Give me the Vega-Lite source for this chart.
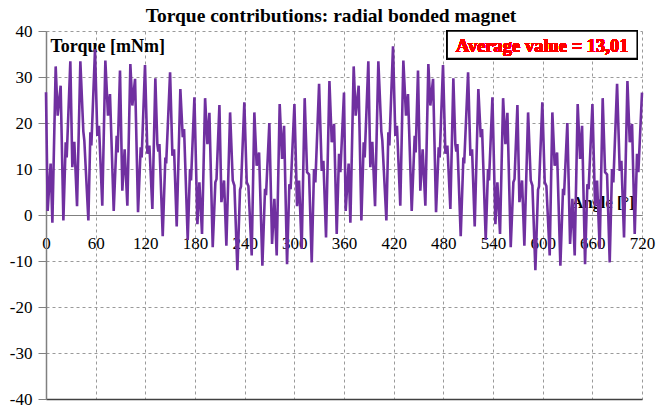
{
  "$schema": "https://vega.github.io/schema/vega-lite/v6.json",
  "width": 596,
  "height": 368,
  "autosize": {"type": "none"},
  "padding": {"left": 46, "top": 31, "right": 14, "bottom": 8},
  "background": "white",
  "config": {"view": {"stroke": null}, "font": "Liberation Serif"},
  "title": {"text": "Torque contributions: radial bonded magnet", "font": "Liberation Serif", "fontSize": 19.5, "fontWeight": "bold", "color": "black", "anchor": "middle", "dx": -13, "dy": 12, "offset": 8},
  "data": {"values": [
    {"a":0,"t":26.7},{"a":2,"t":0.9},{"a":5.6,"t":11.2},{"a":7.7,"t":-1.7},{"a":11.7,"t":32.3},{"a":14.1,"t":21.6},{"a":17.7,"t":28.1},{"a":21,"t":-1.2},{"a":23.8,"t":15.8},{"a":25,"t":12.5},{"a":29.4,"t":33.4},{"a":31.8,"t":10.4},{"a":34.2,"t":15.9},{"a":37.5,"t":1.9},{"a":41.5,"t":33.4},{"a":45.1,"t":18.2},{"a":46.3,"t":16.2},{"a":51.2,"t":-1.2},{"a":53.6,"t":18},{"a":54.8,"t":15.1},{"a":59.2,"t":36},{"a":62,"t":17.2},{"a":64,"t":19.4},{"a":68,"t":2},{"a":71.7,"t":33.6},{"a":74.9,"t":21.6},{"a":77.3,"t":26.3},{"a":81.8,"t":0.9},{"a":85.4,"t":17.2},{"a":86.6,"t":13.6},{"a":89.4,"t":31.4},{"a":92.2,"t":5.3},{"a":95,"t":14.3},{"a":98.3,"t":2},{"a":101.9,"t":32.8},{"a":104.3,"t":23.8},{"a":107.6,"t":29.6},{"a":111.2,"t":0.6},{"a":114.4,"t":14.7},{"a":115.6,"t":12.5},{"a":119.6,"t":32.6},{"a":122.5,"t":13.3},{"a":124.9,"t":15.1},{"a":128.5,"t":1.3},{"a":132.1,"t":29.7},{"a":134.5,"t":15.4},{"a":135.7,"t":13.8},{"a":137,"t":15.4},{"a":141,"t":-4.6},{"a":144.2,"t":12.5},{"a":145.2,"t":11.2},{"a":149.9,"t":31},{"a":152.7,"t":12.9},{"a":154.7,"t":14.3},{"a":157.9,"t":-2.5},{"a":162.3,"t":27.4},{"a":165.2,"t":16.9},{"a":166.8,"t":18.7},{"a":171.2,"t":-5.4},{"a":174,"t":10},{"a":175.2,"t":7.5},{"a":179.3,"t":25.6},{"a":182.9,"t":-2},{"a":185.3,"t":7.1},{"a":188.5,"t":-4.1},{"a":192.2,"t":25.4},{"a":195,"t":15.4},{"a":197.4,"t":22.2},{"a":201.4,"t":-7},{"a":204.6,"t":7.1},{"a":206,"t":7.8},{"a":209.5,"t":23.9},{"a":211.9,"t":2.8},{"a":215.1,"t":7.5},{"a":217.9,"t":-6.7},{"a":222.4,"t":22.3},{"a":225.6,"t":7.5},{"a":227.6,"t":6.4},{"a":231.2,"t":-12},{"a":234.4,"t":5.5},{"a":235.6,"t":6.2},{"a":239.6,"t":24.5},{"a":242.5,"t":7.1},{"a":244.5,"t":6.3},{"a":248.5,"t":-8.8},{"a":251.7,"t":22.3},{"a":254.5,"t":10.7},{"a":257.4,"t":13.6},{"a":261.4,"t":-11},{"a":264.6,"t":5.7},{"a":265.8,"t":4.3},{"a":269.8,"t":20},{"a":273.1,"t":-6.3},{"a":275.9,"t":3.5},{"a":278.7,"t":-8.8},{"a":282.3,"t":24.1},{"a":285.2,"t":12.2},{"a":287.6,"t":19.4},{"a":291.2,"t":-10.7},{"a":294,"t":6.7},{"a":295.5,"t":5.6},{"a":300.1,"t":24.1},{"a":303.3,"t":1.9},{"a":305.7,"t":7.5},{"a":308.9,"t":-7.4},{"a":312.5,"t":25.4},{"a":315.4,"t":9.3},{"a":317.8,"t":8.8},{"a":321,"t":-10.3},{"a":323.8,"t":10},{"a":325.4,"t":7.1},{"a":329.9,"t":28.5},{"a":333.1,"t":9.6},{"a":335.1,"t":11.8},{"a":338.3,"t":-4.9},{"a":342.4,"t":29.1},{"a":345.2,"t":15.8},{"a":348,"t":19.8},{"a":351.2,"t":-4.1},{"a":354,"t":13.3},{"a":355.6,"t":9.3},{"a":360,"t":26.6},
    {"a":362,"t":0.9},{"a":365.6,"t":11.2},{"a":367.7,"t":-1.7},{"a":371.7,"t":32.3},{"a":374.1,"t":21.6},{"a":377.7,"t":28.1},{"a":381,"t":-1.2},{"a":383.8,"t":15.8},{"a":385,"t":12.5},{"a":389.4,"t":33.4},{"a":391.8,"t":10.4},{"a":394.2,"t":15.9},{"a":397.5,"t":1.9},{"a":401.5,"t":33.4},{"a":405.1,"t":18.2},{"a":406.3,"t":16.2},{"a":411.2,"t":-1.2},{"a":413.6,"t":18},{"a":414.8,"t":15.1},{"a":419.2,"t":36.7},{"a":422,"t":17.2},{"a":424,"t":19.4},{"a":428,"t":2},{"a":431.7,"t":33.6},{"a":434.9,"t":21.6},{"a":437.3,"t":26.3},{"a":441.8,"t":0.9},{"a":445.4,"t":17.2},{"a":446.6,"t":13.6},{"a":449.4,"t":31.4},{"a":452.2,"t":5.3},{"a":455,"t":14.3},{"a":458.3,"t":2},{"a":461.9,"t":32.8},{"a":464.3,"t":23.8},{"a":467.6,"t":29.6},{"a":471.2,"t":0.6},{"a":474.4,"t":14.7},{"a":475.6,"t":12.5},{"a":479.6,"t":32.6},{"a":482.5,"t":13.3},{"a":484.9,"t":15.1},{"a":488.5,"t":1.3},{"a":492.1,"t":29.7},{"a":494.5,"t":15.4},{"a":495.7,"t":13.8},{"a":497,"t":15.4},{"a":501,"t":-4.6},{"a":504.2,"t":12.5},{"a":505.2,"t":11.2},{"a":509.9,"t":31},{"a":512.7,"t":12.9},{"a":514.7,"t":14.3},{"a":517.9,"t":-2.5},{"a":522.3,"t":27.4},{"a":525.2,"t":16.9},{"a":526.8,"t":18.7},{"a":531.2,"t":-5.4},{"a":534,"t":10},{"a":535.2,"t":7.5},{"a":539.3,"t":25.6},{"a":542.9,"t":-2},{"a":545.3,"t":7.1},{"a":548.5,"t":-4.1},{"a":552.2,"t":25.4},{"a":555,"t":15.4},{"a":557.4,"t":22.2},{"a":561.4,"t":-7},{"a":564.6,"t":7.1},{"a":566,"t":7.8},{"a":569.5,"t":23.9},{"a":571.9,"t":2.8},{"a":575.1,"t":7.5},{"a":577.9,"t":-6.7},{"a":582.4,"t":22.3},{"a":585.6,"t":7.5},{"a":587.6,"t":6.4},{"a":591.2,"t":-12},{"a":594.4,"t":5.5},{"a":595.6,"t":6.2},{"a":599.6,"t":24.5},{"a":602.5,"t":7.1},{"a":604.5,"t":6.3},{"a":608.5,"t":-8.8},{"a":611.7,"t":22.3},{"a":614.5,"t":10.7},{"a":617.4,"t":13.6},{"a":621.4,"t":-11},{"a":624.6,"t":5.7},{"a":625.8,"t":4.3},{"a":629.8,"t":20},{"a":633.1,"t":-6.3},{"a":635.9,"t":3.5},{"a":638.7,"t":-8.8},{"a":642.3,"t":24.1},{"a":645.2,"t":12.2},{"a":647.6,"t":19.4},{"a":651.2,"t":-10.7},{"a":654,"t":6.7},{"a":655.5,"t":5.6},{"a":660.1,"t":24.1},{"a":663.3,"t":1.9},{"a":665.7,"t":7.5},{"a":668.9,"t":-7.4},{"a":672.5,"t":25.4},{"a":675.4,"t":9.3},{"a":677.8,"t":8.8},{"a":681,"t":-10.3},{"a":683.8,"t":10},{"a":685.4,"t":7.1},{"a":689.9,"t":28.5},{"a":693.1,"t":9.6},{"a":695.1,"t":11.8},{"a":698.3,"t":-4.9},{"a":702.4,"t":29.1},{"a":705.2,"t":15.8},{"a":708,"t":19.8},{"a":711.2,"t":-4.1},{"a":714,"t":13.3},{"a":715.6,"t":9.3},{"a":720,"t":26.6}
  ]},
  "layer": [
    {
      "mark": {"type": "line", "strokeOpacity": 0},
      "encoding": {
        "x": {"field": "a", "type": "quantitative", "scale": {"domain": [0, 720], "nice": false, "zero": false},
          "axis": {"orient": "bottom", "labels": false, "ticks": false, "grid": false, "domain": true, "domainColor": "#404040", "domainWidth": 1.5, "title": null}},
        "y": {"field": "t", "type": "quantitative", "scale": {"domain": [-40, 40], "nice": false}, "axis": null}
      }
    },
    {
      "mark": {"type": "line", "color": "#7030A0", "strokeWidth": 2.6},
      "encoding": {
        "x": {"field": "a", "type": "quantitative",
          "axis": {"orient": "bottom", "offset": -184, "values": [0,60,120,180,240,300,360,420,480,540,600,660,720],
            "grid": true, "gridDash": [3, 3], "gridColor": "#9a9a9a", "gridWidth": 1,
            "domainColor": "#808080", "domainWidth": 1, "ticks": false, "labelPadding": 20,
            "labelFont": "Liberation Serif", "labelFontSize": 17, "labelColor": "black", "labelFlush": false, "labelOverlap": false,
            "title": "Angle [°]", "titleFont": "Liberation Serif", "titleFontSize": 16.5, "titleFontWeight": "bold", "titleColor": "black",
            "titleAnchor": null, "titleAlign": "right", "titleBaseline": "alphabetic", "titleX": 588, "titleY": -8}},
        "y": {"field": "t", "type": "quantitative",
          "axis": {"values": [-40,-30,-20,-10,0,10,20,30,40], "format": "d", "labelExpr": "replace(datum.label, '−', '-')",
            "grid": true, "gridDash": [3, 3], "gridColor": "#9a9a9a", "gridWidth": 1,
            "domainColor": "#808080", "domainWidth": 1.5, "tickColor": "#808080", "tickSize": 8, "labelPadding": 6,
            "labelFont": "Liberation Serif", "labelFontSize": 17, "labelColor": "black",
            "title": "Torque [mNm]", "titleFont": "Liberation Serif", "titleFontSize": 18, "titleFontWeight": "bold", "titleColor": "black",
            "titleAngle": 0, "titleAnchor": null, "titleAlign": "left", "titleBaseline": "alphabetic", "titleX": 4, "titleY": 20}}
      }
    },
    {
      "mark": {"type": "rect", "fill": "white", "stroke": "black", "strokeWidth": 1.5},
      "encoding": {
        "x": {"datum": 484.6, "type": "quantitative", "axis": null},
        "x2": {"datum": 714.2},
        "y": {"datum": 40, "type": "quantitative", "axis": null},
        "y2": {"datum": 34.0}
      }
    },
    {
      "mark": {"type": "text", "text": "Average value = 13,01", "color": "#FF0000", "font": "Liberation Serif", "fontSize": 18.5, "fontWeight": "bold", "align": "center", "baseline": "alphabetic"},
      "encoding": {
        "x": {"datum": 599.4, "type": "quantitative", "axis": null},
        "y": {"datum": 35.4, "type": "quantitative", "axis": null}
      }
    }
  ],
  "resolve": {"axis": {"x": "independent", "y": "independent"}}
}
